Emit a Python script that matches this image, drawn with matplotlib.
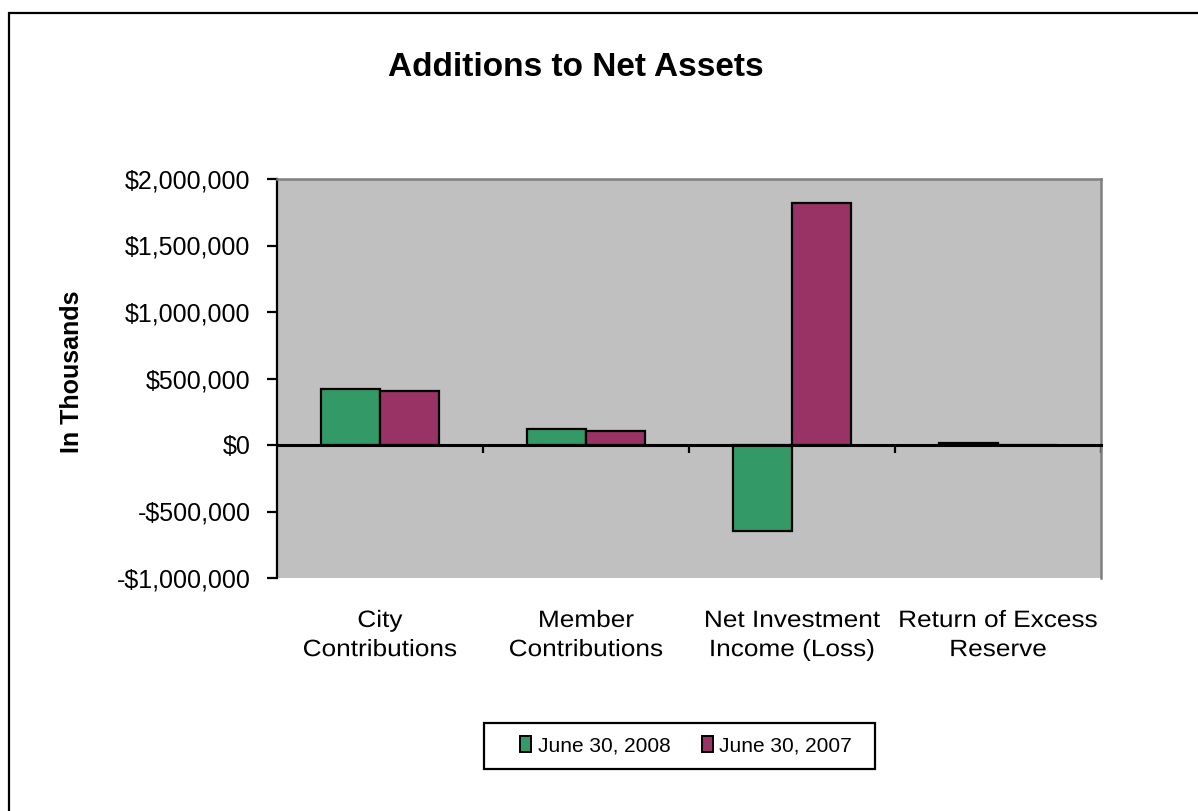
import numpy as np
import matplotlib
matplotlib.use("Agg")
import matplotlib.pyplot as plt
from matplotlib.patches import Rectangle, Patch
from matplotlib.patheffects import AbstractPathEffect
from matplotlib.ticker import FuncFormatter, FixedLocator
from matplotlib.transforms import Affine2D

# values in thousands of dollars
categories = ["City\nContributions", "Member\nContributions",
              "Net Investment\nIncome (Loss)", "Return of Excess\nReserve"]
fy2008 = [423000, 123000, -644000, 15000]
fy2007 = [408000, 107000, 1822000, 0]
series_names = ["June 30, 2008", "June 30, 2007"]

GREEN = "#339966"
PURPLE = "#993366"
PLOT_BG = "#C0C0C0"

plt.rcParams["font.family"] = ["Liberation Sans", "DejaVu Sans"]


class Stretch(AbstractPathEffect):
    """Scales glyphs horizontally around a fixed display x."""

    def __init__(self, sx, center_x):
        super().__init__()
        self.sx = sx
        self.center_x = center_x

    def draw_path(self, renderer, gc, tpath, affine, rgbFace=None):
        cx = self.center_x()
        scale = Affine2D().translate(-cx, 0).scale(self.sx, 1).translate(cx, 0)
        renderer.draw_path(gc, tpath, affine + scale, rgbFace)


W, H = 1198, 811
fig = plt.figure(figsize=(W / 100, H / 100), dpi=100)

# outer chart frame (runs off the right and bottom edges)
fig.add_artist(Rectangle((9 / W, -0.1), 1.2, 1 - 13 / H + 0.1,
                         transform=fig.transFigure, fill=False,
                         edgecolor="black", linewidth=1.6))

ax = fig.add_axes([277 / W, 1 - 578 / H, (1101 - 277) / W, (578 - 179) / H])
ax.set_facecolor(PLOT_BG)

x = np.arange(len(categories))
w = 1 / 3.5
ax.bar(x - w / 2, fy2008, w, color=GREEN, edgecolor="black", linewidth=1.6, zorder=3)
ax.bar(x + w / 2, fy2007, w, color=PURPLE, edgecolor="black", linewidth=1.6, zorder=3)

ax.set_xlim(-0.5, len(categories) - 0.5)
ax.set_ylim(-1000000, 2000000)
ax.set_yticks(np.arange(-1000000, 2000001, 500000))


def money(v, pos):
    s = f"${abs(v):,.0f}"
    return "-" + s if v < 0 else s


ax.yaxis.set_major_formatter(FuncFormatter(money))
ax.tick_params(axis="y", direction="out", length=7, width=1.6,
               labelsize=18, pad=12)

# category axis sits on the zero line, ticks between the groups
ax.spines["bottom"].set_position(("data", 0))
ax.spines["bottom"].set_linewidth(2.2)
ax.spines["bottom"].set_zorder(4)
ax.xaxis.set_major_locator(FixedLocator(x + 0.5))
ax.tick_params(axis="x", direction="out", length=6, width=1.6, labelbottom=False)

ax.spines["left"].set_color("black")
ax.spines["left"].set_linewidth(1.6)
for side in ("top", "right"):
    ax.spines[side].set_color("#808080")
    ax.spines[side].set_linewidth(1.8)

# category names go under the plot area, not under the zero line
for xi, lab in zip(x, categories):
    ann = ax.annotate(lab, xy=(xi, 0), xycoords=ax.get_xaxis_transform(),
                      xytext=(0, -23), textcoords="offset points",
                      ha="center", va="top", fontsize=17, linespacing=1.42)
    ann.set_path_effects([Stretch(1.11, lambda xi=xi: ax.get_xaxis_transform().transform((xi, 0))[0])])

fig.text(72 / W, 1 - 372 / H, "In Thousands", rotation=90, ha="center", va="center",
         fontsize=18, fontweight="bold")

fig.text(576 / W, 1 - 68 / H, "Additions to Net Assets", ha="center", va="center",
         fontsize=24, fontweight="bold")

# legend box drawn separately so its padding can be set per side
fig.add_artist(Rectangle((484 / W, 1 - 769 / H), (875 - 484) / W, 46 / H,
                         transform=fig.transFigure, facecolor="white",
                         edgecolor="black", linewidth=1.6))
handles = [Patch(facecolor=GREEN, edgecolor="black", linewidth=1.4),
           Patch(facecolor=PURPLE, edgecolor="black", linewidth=1.4)]
leg = fig.legend(handles, series_names, loc="center", bbox_to_anchor=(686 / W, 1 - 746 / H),
                 ncol=2, fontsize=15, frameon=False,
                 handlelength=0.55, handleheight=0.8, handletextpad=0.3,
                 columnspacing=1.5, borderpad=0)

fig.savefig("out.png", dpi=100)
